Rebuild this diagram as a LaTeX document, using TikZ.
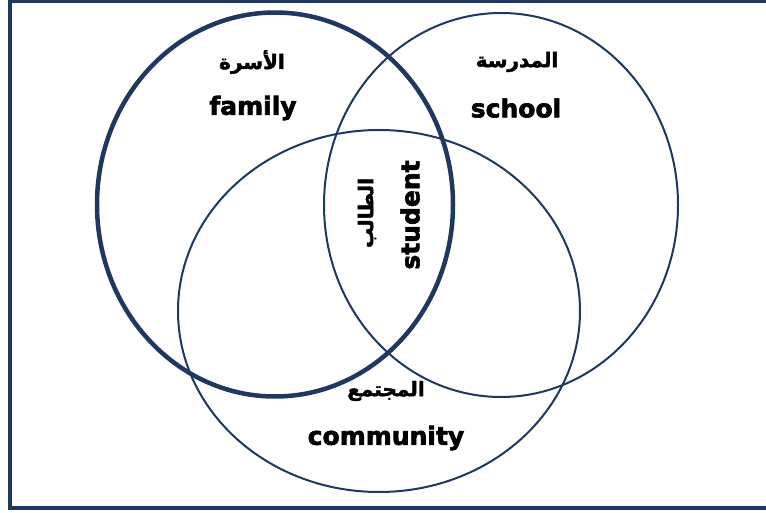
\documentclass[tikz,border=0pt]{standalone}
\usepackage{fontspec}
\newfontfamily\labelfont{DejaVu Sans}[BoldFeatures={FakeBold=2.5}]
\newfontfamily\arabicfont[Script=Arabic, BoldFeatures={FakeBold=2}]{DejaVu Sans}
\TeXXeTstate=1
\definecolor{navy}{RGB}{31,56,96}
\tikzset{
  enlabel/.style={font=\labelfont\bfseries\fontsize{25}{28}\selectfont, inner sep=0pt},
  arlabel/.style={font=\arabicfont\bfseries\fontsize{20}{24}\selectfont, inner sep=0pt},
}
\begin{document}
\begin{tikzpicture}[x=1pt,y=-1pt]
        \useasboundingbox (0,0) rectangle (766,513);

        \draw[navy, line width=4.5pt] (10,1) rectangle (790,508);

        \draw[navy, line width=2pt] (501,205) ellipse [x radius=177, y radius=192];
        \draw[navy, line width=2pt] (379,311) ellipse [x radius=201, y radius=181];
        \draw[navy, line width=4.5pt] (275,204.5) ellipse [x radius=178, y radius=192];

        \node[arlabel] (familyar) at (252,62) {\beginR الأسرة\endR};
        \node[enlabel] (family) at (253,108) {family};
        \node[arlabel] (schoolar) at (517,62) {\beginR المدرسة\endR};
        \node[enlabel] (school) at (516,108) {school};
        \node[arlabel, rotate=90] (studentar) at (367,213) {\beginR الطالب\endR};
        \node[enlabel, rotate=90] (student) at (410,215) {student};
        \node[arlabel] (communityar) at (386,391) {\beginR المجتمع\endR};
        \node[enlabel] (community) at (386,438) {community};
    \end{tikzpicture}
\end{document}
